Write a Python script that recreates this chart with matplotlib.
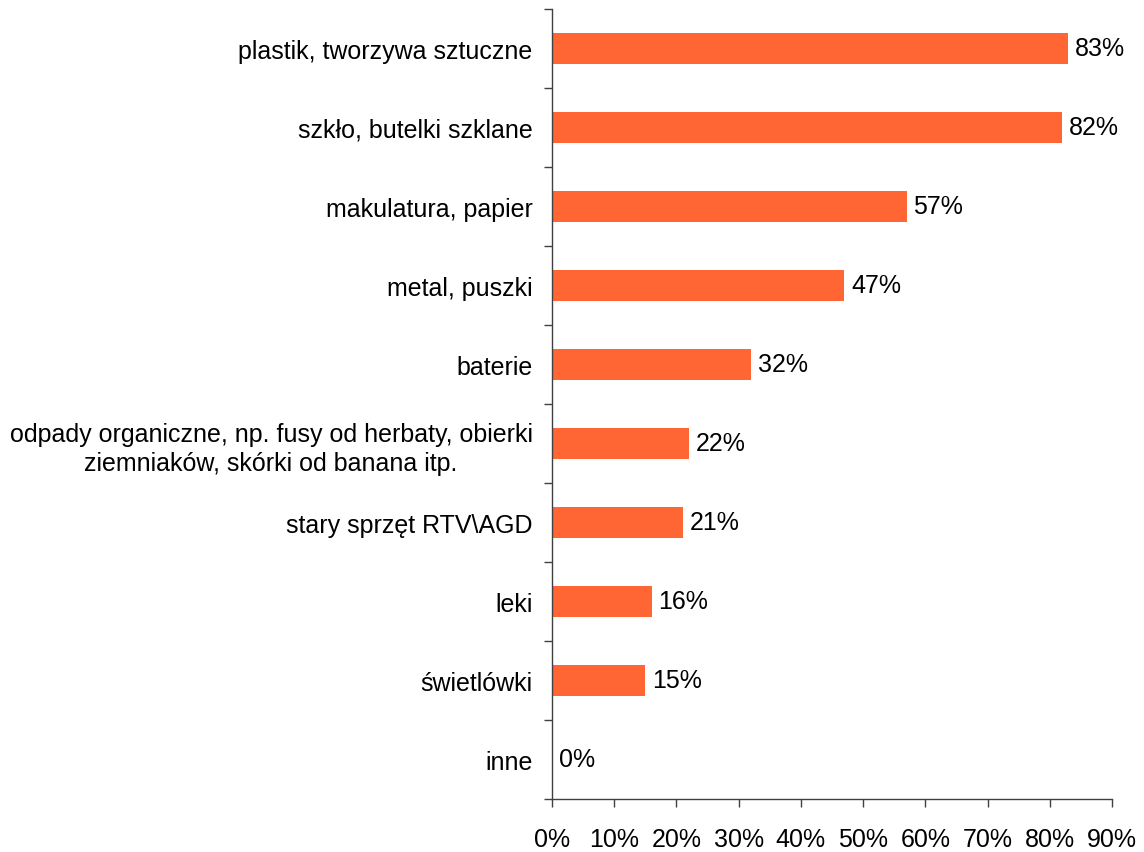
import numpy as np
import matplotlib
matplotlib.use("Agg")
import matplotlib.pyplot as plt
from matplotlib.ticker import FixedLocator, PercentFormatter

plt.rcParams['font.family'] = ['Liberation Sans', 'DejaVu Sans']

# data, top to bottom as in the chart
categories = ["plastik, tworzywa sztuczne",
              "szkło, butelki szklane",
              "makulatura, papier",
              "metal, puszki",
              "baterie",
              "odpady organiczne, np. fusy od herbaty, obierki\nziemniaków, skórki od banana itp.",
              "stary sprzęt RTV\\AGD",
              "leki",
              "świetlówki",
              "inne"]
values = [83, 82, 57, 47, 32, 22, 21, 16, 15, 0]
x_ticks = [0, 10, 20, 30, 40, 50, 60, 70, 80, 90]

bar_color = "#FF6633"
axis_color = "#404040"
fs = 18

fig = plt.figure(figsize=(11.44, 8.53), dpi=100)
ax = fig.add_axes([552 / 1144, 1 - 800 / 853, (1112 - 552) / 1144, (800 - 10) / 853])

n = len(categories)
y = np.arange(n)
ax.barh(y, values, height=0.4, color=bar_color, edgecolor="none")

for yi, v in zip(y, values):
    ax.text(v + 1.1, yi, "%d%%" % v, va="center", ha="left", fontsize=fs)

ax.set_ylim(n - 0.5, -0.5)
ax.set_xlim(0, 90)

ax.set_yticks(y)
ax.set_yticklabels(categories, fontsize=fs, ha="right", multialignment="center",
                   linespacing=1.25)
ax.yaxis.set_minor_locator(FixedLocator(np.arange(-0.5, n, 1.0)))
ax.tick_params(axis="y", which="major", length=0, pad=14)
ax.tick_params(axis="y", which="minor", length=6, direction="out", color=axis_color, width=1)

ax.set_xticks(x_ticks)
ax.xaxis.set_major_formatter(PercentFormatter(decimals=0))
ax.tick_params(axis="x", length=6, direction="out", color=axis_color, width=1, labelsize=fs, pad=14)

for side in ["top", "right"]:
    ax.spines[side].set_visible(False)
for side in ["left", "bottom"]:
    ax.spines[side].set_color(axis_color)
    ax.spines[side].set_linewidth(1)

fig.savefig("out.png", dpi=100, facecolor="white")
